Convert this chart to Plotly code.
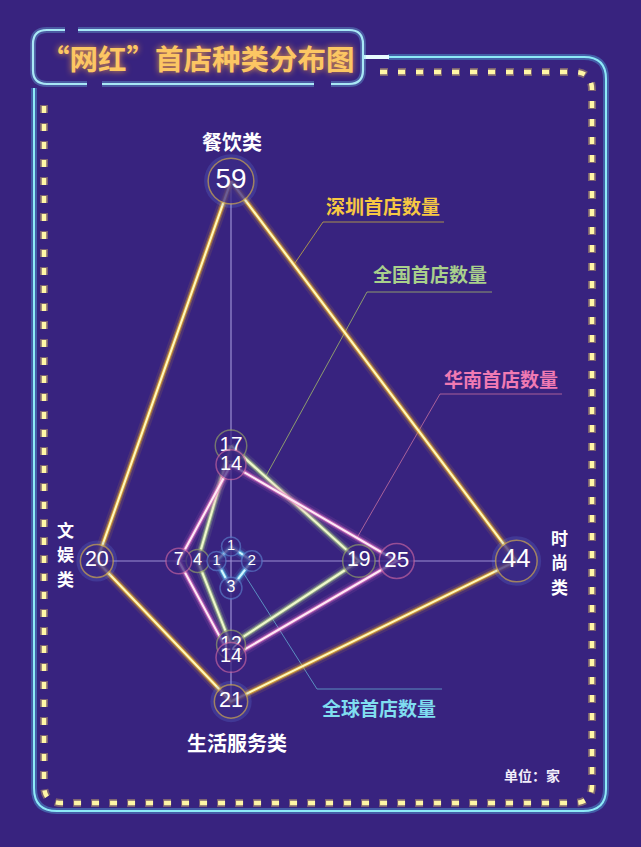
import numpy as np
import plotly.graph_objects as go

W, H = 641, 847

# data
categories = ["餐饮类", "时尚类", "生活服务类", "文娱类"]   # up, right, down, left
series_names = ["深圳首店数量", "全国首店数量", "华南首店数量", "全球首店数量"]
shenzhen = [59, 44, 21, 20]
quanguo = [17, 19, 12, 4]
huanan = [14, 25, 14, 7]
quanqiu = [1, 2, 3, 1]

title_text = "“网红”首店种类分布图"
unit_text = "单位：家"

BG = "#38237f"
CX, CY = 231, 561      # centre of the cross, px
K = 6.3                # px per store
HOLE = 1.3             # small push outwards so the tiny circles don't stack on the centre
CJK = "Noto Sans CJK SC"
NUM = "Liberation Sans, Arial"

DIRS = [(0, 1), (1, 0), (0, -1), (-1, 0)]


def to_xy(vals):
    xs = [dx * (v + HOLE) for v, (dx, dy) in zip(vals, DIRS)]
    ys = [dy * (v + HOLE) for v, (dx, dy) in zip(vals, DIRS)]
    return xs, ys


def px2data(x, y):
    return (x - CX) / K, (CY - y) / K


def px(x):
    return x / W


def py(y):
    return 1 - y / H


def path(cmds):
    out = []
    for c in cmds:
        out.append(c[0] + " " + " ".join(f"{px(x):.5f},{py(y):.5f}" for x, y in c[1:]))
    return " ".join(out)


styles = [
    dict(core="#fff8bb", glow="255,188,30", ring="#c9a24c", label="#f7c843", lead="#a8914f"),
    dict(core="#eef8cc", glow="180,215,140", ring="#8e9a68", label="#a9d08c", lead="#8d9b6e"),
    dict(core="#ffe8f5", glow="235,120,200", ring="#c0619f", label="#f07ab3", lead="#a8619a"),
    dict(core="#d2f7ff", glow="90,200,240", ring="#5877c6", label="#80def0", lead="#5b8fc0"),
]

leaders = [
    dict(edge=(0, 1), t=0.22, elbow=(323, 222), end=(444, 222), text_at=(383, 205)),
    dict(edge=(0, 1), t=0.27, elbow=(367, 292), end=(492, 292), text_at=(430, 273)),
    dict(edge=(0, 1), t=0.76, elbow=(440, 394), end=(562, 394), text_at=(501, 378)),
    dict(edge=(1, 2), t=0.42, elbow=(317, 689), end=(442, 689), text_at=(379, 707)),
]

all_vals = [shenzhen, quanguo, huanan, quanqiu]

fig = go.Figure()

# the cross
ext = [max(v[i] for v in all_vals) + HOLE for i in range(4)]
fig.add_trace(go.Scatter(x=[0, 0], y=[ext[0], -ext[2]], mode="lines",
                         line=dict(color="#9c8fd4", width=1.2), hoverinfo="skip"))
fig.add_trace(go.Scatter(x=[-ext[3], ext[1]], y=[0, 0], mode="lines",
                         line=dict(color="#9c8fd4", width=1.2), hoverinfo="skip"))

# leader lines
for vals, st, ld in zip(all_vals, styles, leaders):
    xs, ys = to_xy(vals)
    i, j = ld["edge"]
    sx = xs[i] + (xs[j] - xs[i]) * ld["t"]
    sy = ys[i] + (ys[j] - ys[i]) * ld["t"]
    ex, ey = px2data(*ld["elbow"])
    fx, fy = px2data(*ld["end"])
    fig.add_trace(go.Scatter(x=[sx, ex, fx], y=[sy, ey, fy], mode="lines",
                             line=dict(color=st["lead"], width=1), hoverinfo="skip"))

# neon polygons
for vals, st in zip(all_vals, styles):
    xs, ys = to_xy(vals)
    xs.append(xs[0])
    ys.append(ys[0])
    for w, a in [(11, 0.10), (6.5, 0.28), (4, 0.6)]:
        fig.add_trace(go.Scatter(x=xs, y=ys, mode="lines",
                                 line=dict(color=f"rgba({st['glow']},{a})", width=w),
                                 hoverinfo="skip"))
    fig.add_trace(go.Scatter(x=xs, y=ys, mode="lines",
                             line=dict(color=st["core"], width=2.1), hoverinfo="skip"))

# value circles
for n, (vals, st) in enumerate(zip(all_vals, styles)):
    xs, ys = to_xy(vals)
    sizes = [15 + 4 * np.sqrt(v) for v in vals]
    if n == 0:
        fig.add_trace(go.Scatter(x=xs, y=ys, mode="markers", hoverinfo="skip",
                                 marker=dict(size=[s + 8 for s in sizes],
                                             color="rgba(110,160,255,0.25)", line=dict(width=0))))
    fig.add_trace(go.Scatter(
        x=xs, y=ys, mode="markers+text", text=[str(v) for v in vals],
        textposition="middle center", hoverinfo="skip",
        marker=dict(size=sizes, color=BG, line=dict(color=st["ring"], width=1.5)),
        textfont=dict(family=NUM, size=[0.5 * s + 5 for s in sizes], color="white"),
    ))

shapes = []
# outer cyan frame
frame = path([("M", (388, 57)), ("L", (584, 57)), ("Q", (606, 57), (606, 79)),
              ("L", (606, 789)), ("Q", (606, 811), (583, 811)), ("L", (57, 811)),
              ("Q", (34, 811), (34, 788)), ("L", (34, 88))])
shapes.append(dict(type="path", path=frame, xref="paper", yref="paper",
                   line=dict(color="rgba(90,210,245,0.35)", width=6)))
shapes.append(dict(type="path", path=frame, xref="paper", yref="paper",
                   line=dict(color="#8eeaf8", width=2)))
shapes.append(dict(type="path", path=path([("M", (363, 57)), ("L", (389, 57))]),
                   xref="paper", yref="paper", line=dict(color="#e8fcff", width=4)))

# dotted yellow frame
dots = path([("M", (380, 72)), ("L", (574, 72)), ("Q", (592, 72), (592, 90)),
             ("L", (592, 785)), ("Q", (592, 803), (574, 803)), ("L", (62, 803)),
             ("Q", (44, 803), (44, 785)), ("L", (44, 95))])
shapes.append(dict(type="path", path=dots, xref="paper", yref="paper",
                   line=dict(color="rgba(255,220,90,0.35)", width=8, dash="8px,10px")))
shapes.append(dict(type="path", path=dots, xref="paper", yref="paper",
                   line=dict(color="#fff6a6", width=4.5, dash="7px,11px")))

# title box (broken outline)
box_parts = [
    [("M", (78, 30)), ("L", (349, 30)), ("Q", (363, 30), (363, 44)), ("L", (363, 70)),
     ("Q", (363, 84), (349, 84)), ("L", (331, 84))],
    [("M", (314, 84)), ("L", (102, 84))],
    [("M", (87, 84)), ("L", (47, 84)), ("Q", (33, 84), (33, 70)), ("L", (33, 44)),
     ("Q", (33, 30), (47, 30)), ("L", (65, 30))],
]
for part in box_parts:
    shapes.append(dict(type="path", path=path(part), xref="paper", yref="paper",
                       line=dict(color="rgba(120,215,245,0.3)", width=6)))
    shapes.append(dict(type="path", path=path(part), xref="paper", yref="paper",
                       line=dict(color="#a9e8f6", width=2.2)))


def note(x, y, text, size=20, color="white", bold=True):
    return dict(x=px(x), y=py(y), text=text, showarrow=False, xref="paper", yref="paper",
                xanchor="center", yanchor="middle",
                font=dict(family=CJK, size=size, color=color,
                          weight="bold" if bold else "normal"))


annotations = [
    note(198, 58, title_text, size=28.5, color="#fcc663"),
    note(232, 142, categories[0]),
    note(237, 742, categories[2]),
    note(532, 775, unit_text, size=14, color="#f2eefa"),
]
annotations[0]["font"]["shadow"] = "0px 0px 6px rgba(255,170,60,0.85)"
# vertical labels, one glyph per line
for k, ch in enumerate(categories[1]):
    annotations.append(note(559, 537 + 24.5 * k, ch, size=17))
for k, ch in enumerate(categories[3]):
    annotations.append(note(65, 529 + 24.5 * k, ch, size=17))

for name, st, ld in zip(series_names, styles, leaders):
    annotations.append(note(ld["text_at"][0], ld["text_at"][1], name, size=19,
                            color=st["label"]))

fig.update_layout(
    width=W, height=H, margin=dict(l=0, r=0, t=0, b=0, pad=0),
    paper_bgcolor=BG, plot_bgcolor=BG, showlegend=False,
    xaxis=dict(range=[-CX / K, (W - CX) / K], visible=False, fixedrange=True),
    yaxis=dict(range=[-(H - CY) / K, CY / K], visible=False, fixedrange=True),
    shapes=shapes, annotations=annotations,
)

fig.write_html("out.html", config={"displayModeBar": False},
               post_script="document.body.style.margin='0';"
                           "document.body.style.background='" + BG + "';")
